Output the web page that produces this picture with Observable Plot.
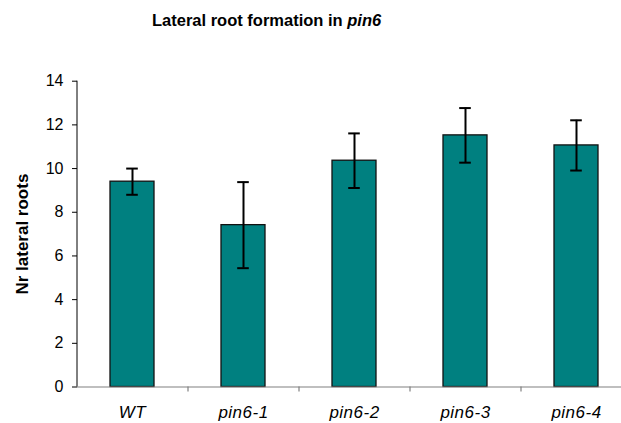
<!DOCTYPE html>
<html>
<head>
<meta charset="utf-8">
<script src="https://cdn.jsdelivr.net/npm/d3@7"></script>
<script src="https://cdn.jsdelivr.net/npm/@observablehq/plot@0.6"></script>
<style>
  html, body { margin: 0; padding: 0; background: #fff; overflow: hidden; }
  #wrap { width: 621px; height: 423px; position: relative; font-family: "Liberation Sans", Arial, sans-serif; }
  #title { height: 40px; box-sizing: border-box; padding-top: 10px; padding-left: 152px; line-height: 20px;
           font-size: 16.5px; font-weight: bold; color: #000; white-space: nowrap; }
  svg { display: block; }
  g[aria-label="x-axis tick label"] text { letter-spacing: 0.5px; }
</style>
</head>
<body>
<div id="wrap">
  <div id="title">Lateral root formation in <i>pin6</i></div>
  <div id="chart"></div>
</div>
<script>
const categories = ["WT", "pin6-1", "pin6-2", "pin6-3", "pin6-4"];
const means = [9.40, 7.41, 10.36, 11.52, 11.06];
const errors = [0.60, 1.97, 1.25, 1.25, 1.15];
const yTicks = [0, 2, 4, 6, 8, 10, 12, 14];
const yLabel = "Nr lateral roots";

const data = categories.map((c, i) => ({name: c, mean: means[i], lo: means[i] - errors[i], hi: means[i] + errors[i]}));

const W = 621, H = 383, ML = 77, MR = -11, MT = 40.7, MB = 36.5;
const PI = 0.6, PO = 0.3;
const step = (W - ML - MR) / (categories.length - PI + 2 * PO);
const bw = step * (1 - PI);
const capInset = (bw - 12) / 2;

const chart = Plot.plot({
  width: W, height: H,
  marginLeft: ML, marginRight: MR, marginTop: MT, marginBottom: MB,
  style: {fontFamily: "'Liberation Sans', Arial, sans-serif", color: "#000", background: "#fff"},
  x: {type: "band", domain: categories, paddingInner: PI, paddingOuter: PO, axis: null},
  y: {domain: [0, 14], axis: null},
  marks: [
    Plot.barY(data, {x: "name", y: "mean", fill: "#008080", stroke: "#111", strokeWidth: 1.3}),
    Plot.ruleX(data, {x: "name", y1: "lo", y2: "hi", stroke: "#000", strokeWidth: 2}),
    Plot.tickY(data, {x: "name", y: "lo", stroke: "#000", strokeWidth: 2, insetLeft: capInset, insetRight: capInset}),
    Plot.tickY(data, {x: "name", y: "hi", stroke: "#000", strokeWidth: 2, insetLeft: capInset, insetRight: capInset}),
    Plot.ruleY([0], {stroke: "#808080", strokeWidth: 1.2}),
    Plot.ruleX(categories, {x: d => d, y1: 0, y2: 0, insetBottom: -5, dx: step / 2, stroke: "#808080", strokeWidth: 1.2}),
    Plot.ruleX([0], {x: () => categories[0], y1: 0, y2: 14, dx: -(step * PO + bw / 2), stroke: "#000", strokeWidth: 1}),
    Plot.axisY({ticks: yTicks, tickSize: 5, tickPadding: 9, fontSize: 16, label: null, tickFormat: d => String(d), stroke: "#000"}),
    Plot.axisX({tickSize: 0, tickPadding: 19, fontSize: 17, fontStyle: "italic", label: null}),
    Plot.text([yLabel], {frameAnchor: "left", textAnchor: "middle", rotate: -90, dx: -55, fontSize: 17, fontWeight: "bold", fill: "#000"})
  ]
});
document.getElementById("chart").appendChild(chart);
</script>
</body>
</html>
